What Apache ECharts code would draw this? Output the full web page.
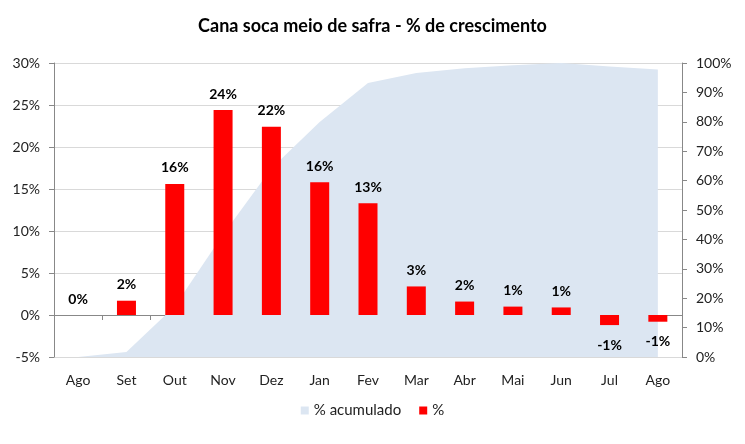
<!DOCTYPE html>
<html>
<head>
<meta charset="utf-8">
<script src="https://cdn.jsdelivr.net/npm/echarts@6/dist/echarts.min.js"></script>
<style>html,body{margin:0;padding:0;background:#fff}#c{width:745px;height:444px}</style>
</head>
<body>
<div id="c"></div>
<script>
var categories = ['Ago','Set','Out','Nov','Dez','Jan','Fev','Mar','Abr','Mai','Jun','Jul','Ago'];
var growth = [0, 1.7, 15.6, 24.4, 22.4, 15.8, 13.3, 3.4, 1.6, 1.0, 0.9, -1.2, -0.8];
var accumulated = [0, 1.7, 17.3, 41.7, 64.1, 79.9, 93.2, 96.6, 98.2, 99.2, 100, 98.8, 97.8];
var leftTicks = {min: -5, max: 30, interval: 5};
var rightTicks = {min: 0, max: 100, interval: 10};

var FONT = 'Lato, "Open Sans", sans-serif';
var chart = echarts.init(document.getElementById('c'), null, {renderer: 'canvas'});

var barData = growth.map(function (v) {
  return {
    value: v,
    label: { position: v < 0 ? 'bottom' : 'top', distance: v < 0 ? 13 : 9 }
  };
});

chart.setOption({
  animation: false,
  backgroundColor: '#ffffff',
  textStyle: { fontFamily: FONT },
  title: {
    text: 'Cana soca meio de safra - % de crescimento',
    left: 'center',
    top: 12,
    textStyle: { fontFamily: FONT, fontWeight: 'bold', fontSize: 18, color: '#000' }
  },
  legend: {
    bottom: 21,
    left: 'center',
    icon: 'rect',
    itemWidth: 8,
    itemHeight: 8,
    itemGap: 18,
    textStyle: { fontFamily: FONT, fontSize: 15, color: '#222' },
    data: ['% acumulado', '%']
  },
  grid: { left: 54, right: 63, top: 63, bottom: 87, containLabel: false },
  xAxis: [
    {
      type: 'category',
      data: categories,
      position: 'bottom',
      axisLine: { show: false, onZero: false },
      axisTick: { show: false },
      axisLabel: { fontFamily: FONT, fontSize: 14, color: '#222', margin: 16 }
    },
    {
      type: 'category',
      data: categories,
      position: 'bottom',
      axisLine: { show: true, onZero: true, onZeroAxisIndex: 0, lineStyle: { color: '#888', width: 1 } },
      axisTick: { show: true, alignWithLabel: false, length: 5, lineStyle: { color: '#888' } },
      axisLabel: { show: false }
    }
  ],
  yAxis: [
    {
      type: 'value',
      min: leftTicks.min, max: leftTicks.max, interval: leftTicks.interval,
      position: 'left',
      axisLine: { show: true, lineStyle: { color: '#888' } },
      axisTick: { show: true, length: 5, lineStyle: { color: '#888' } },
      axisLabel: { fontFamily: FONT, fontSize: 14, color: '#222', margin: 14, formatter: function (v) { return v + '%'; } },
      splitLine: { show: true, lineStyle: { color: '#d9d9d9', width: 1 } }
    },
    {
      type: 'value',
      min: rightTicks.min, max: rightTicks.max, interval: rightTicks.interval,
      position: 'right',
      axisLine: { show: true, lineStyle: { color: '#888' } },
      axisTick: { show: true, length: 5, lineStyle: { color: '#888' } },
      axisLabel: { fontFamily: FONT, fontSize: 14, color: '#222', margin: 14, formatter: function (v) { return v + '%'; } },
      splitLine: { show: false }
    }
  ],
  series: [
    {
      name: '% acumulado',
      type: 'line',
      xAxisIndex: 0,
      yAxisIndex: 1,
      data: accumulated,
      symbol: 'none',
      lineStyle: { width: 0, color: '#dce6f2' },
      itemStyle: { color: '#dce6f2' },
      areaStyle: { color: '#dce6f2', opacity: 1 },
      z: 1
    },
    {
      name: '%',
      type: 'bar',
      xAxisIndex: 0,
      yAxisIndex: 0,
      data: barData,
      barWidth: 19,
      itemStyle: { color: '#ff0000' },
      label: {
        show: true,
        fontFamily: FONT,
        fontSize: 14,
        fontWeight: 'bold',
        color: '#000',
        formatter: function (p) { return Math.round(p.value) + '%'; }
      },
      z: 3
    }
  ]
});
</script>
</body>
</html>
